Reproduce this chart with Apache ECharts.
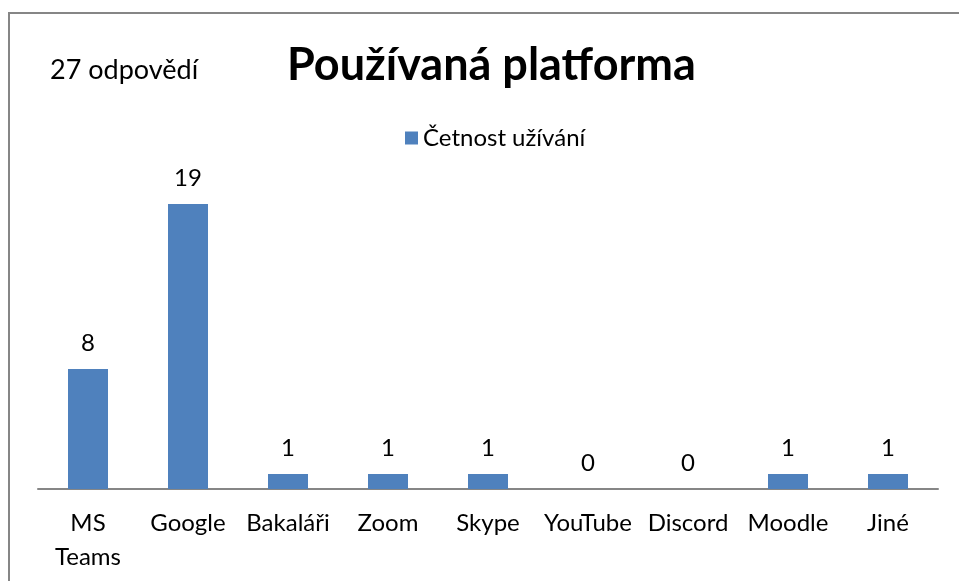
<!DOCTYPE html>
<html>
<head>
<meta charset="utf-8">
<script src="https://cdn.jsdelivr.net/npm/echarts@6/dist/echarts.min.js"></script>
<style>
  html, body { margin: 0; padding: 0; background: #fff; }
  #chart { width: 959px; height: 581px; }
</style>
</head>
<body>
<div id="chart"></div>
<script>
// data
const categories = ['MS\nTeams', 'Google', 'Bakaláři', 'Zoom', 'Skype', 'YouTube', 'Discord', 'Moodle', 'Jiné']
const values = [8, 19, 1, 1, 1, 0, 0, 1, 1]
const seriesName = 'Četnost užívání'
const titleText = 'Používaná platforma'
const noteText = '27 odpovědí'

const font = 'Lato, "Open Sans", sans-serif'
const chart = echarts.init(document.getElementById('chart'))

const option = {
  animation: false,
  textStyle: { fontFamily: font },
  graphic: [
    {
      type: 'rect',
      shape: { x: 9, y: 13, width: 980, height: 600 },
      style: { fill: 'none', stroke: '#868686', lineWidth: 2 }
    },
    {
      type: 'text',
      left: 50,
      top: 57,
      style: { text: noteText, fontSize: 27, fontFamily: font, fill: '#000' }
    }
  ],
  title: {
    text: titleText,
    left: 282,
    top: 38,
    textStyle: { fontSize: 45, fontWeight: 'bold', color: '#000', fontFamily: font }
  },
  legend: {
    top: 121,
    left: 400,
    itemWidth: 13,
    itemHeight: 13,
    itemGap: 7,
    textStyle: { fontSize: 24, color: '#000', fontFamily: font },
    data: [{ name: seriesName, icon: 'rect' }]
  },
  grid: { left: 38, right: 21, top: 204, bottom: 92, containLabel: false },
  xAxis: {
    type: 'category',
    data: categories,
    axisLine: { lineStyle: { color: '#868686', width: 2 } },
    axisTick: { show: false },
    axisLabel: {
      color: '#000',
      fontSize: 24,
      margin: 17,
      lineHeight: 34,
      interval: 0,
      fontFamily: font
    }
  },
  yAxis: {
    type: 'value',
    min: 0,
    max: 19,
    show: false,
    splitLine: { show: false }
  },
  series: [
    {
      name: seriesName,
      type: 'bar',
      data: values,
      barWidth: 40,
      itemStyle: { color: '#4F81BD' },
      label: {
        show: true,
        position: 'top',
        distance: 14,
        color: '#000',
        fontSize: 24,
        fontFamily: font
      }
    }
  ]
}

chart.setOption(option)
</script>
</body>
</html>
